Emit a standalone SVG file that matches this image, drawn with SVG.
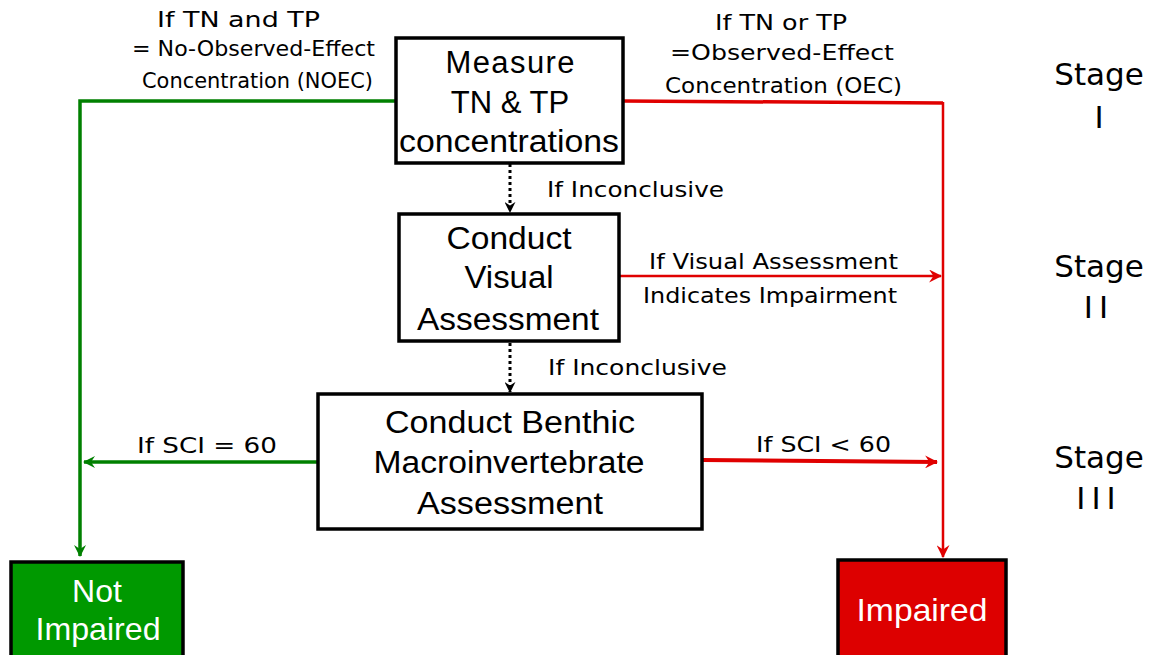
<svg xmlns="http://www.w3.org/2000/svg" width="1151" height="655" viewBox="0 0 1151 655">
<defs>
<style>
.box{fill:#fff;stroke:#000;stroke-width:3.5}
.bt{font-family:"Liberation Sans",Arial,sans-serif;font-size:31px;fill:#000;text-anchor:middle}
.wt{font-family:"Liberation Sans",Arial,sans-serif;font-size:32px;fill:#fff;text-anchor:middle}
.lb{font-family:"DejaVu Sans",Verdana,sans-serif;font-size:22px;fill:#000}
.st{font-family:"DejaVu Sans",Verdana,sans-serif;font-size:31px;fill:#000;text-anchor:middle}
.g{fill:none;stroke:#008000;stroke-width:3.5}
.r{fill:none;stroke:#e00000}
.d{fill:none;stroke:#000;stroke-width:3;stroke-dasharray:3 3}
</style>
<marker id="ag" viewBox="0 0 12 12" refX="11" refY="6" markerWidth="12" markerHeight="12" markerUnits="userSpaceOnUse" orient="auto"><path d="M0,0 L12,6 L0,12 L4,6 z" fill="#008000"/></marker>
<marker id="ar" viewBox="0 0 12 12" refX="11" refY="6" markerWidth="13" markerHeight="13" markerUnits="userSpaceOnUse" orient="auto"><path d="M0,0 L12,6 L0,12 L4,6 z" fill="#e00000"/></marker>
<marker id="ak" viewBox="0 0 12 12" refX="11" refY="6" markerWidth="11" markerHeight="11" markerUnits="userSpaceOnUse" orient="auto"><path d="M0,0 L12,6 L0,12 L4,6 z" fill="#000"/></marker>
</defs>
<rect width="1151" height="655" fill="#fff"/>

<g id="connectors">
<path class="g" d="M397,101 H80 V556" marker-end="url(#ag)"/>
<path class="g" d="M317,462 H84" marker-end="url(#ag)"/>
<path class="r" stroke-width="3.5" d="M623,101 L943,103"/>
<path class="r" stroke-width="2.5" d="M943,102 V557" marker-end="url(#ar)"/>
<path class="r" stroke-width="2.5" d="M619,276 H941" marker-end="url(#ar)"/>
<path class="r" stroke-width="4" d="M702,460 L937,462" marker-end="url(#ar)"/>
<path class="d" d="M510,164 V212" marker-end="url(#ak)"/>
<path class="d" d="M510,343 V392" marker-end="url(#ak)"/>
<text class="lb" x="157" y="27" textLength="163" lengthAdjust="spacingAndGlyphs">If TN and TP</text>
<text class="lb" x="132" y="56" textLength="243" lengthAdjust="spacingAndGlyphs">= No-Observed-Effect</text>
<text class="lb" x="142" y="88" textLength="231" lengthAdjust="spacingAndGlyphs">Concentration (NOEC)</text>
<text class="lb" x="715" y="30" textLength="132" lengthAdjust="spacingAndGlyphs">If TN or TP</text>
<text class="lb" x="670" y="60" textLength="224" lengthAdjust="spacingAndGlyphs">=Observed-Effect</text>
<text class="lb" x="665" y="93" textLength="237" lengthAdjust="spacingAndGlyphs">Concentration (OEC)</text>
<text class="lb" x="547" y="197" textLength="177" lengthAdjust="spacingAndGlyphs">If Inconclusive</text>
<text class="lb" x="548" y="375" textLength="179" lengthAdjust="spacingAndGlyphs">If Inconclusive</text>
<text class="lb" x="649" y="269" textLength="249" lengthAdjust="spacingAndGlyphs">If Visual Assessment</text>
<text class="lb" x="643" y="303" textLength="254" lengthAdjust="spacingAndGlyphs">Indicates Impairment</text>
<text class="lb" x="137" y="453" textLength="140" lengthAdjust="spacingAndGlyphs">If SCI = 60</text>
<text class="lb" x="756" y="452" textLength="135" lengthAdjust="spacingAndGlyphs">If SCI &lt; 60</text>
</g>

<g id="measure">
<rect class="box" x="396" y="38" width="227" height="125"/>
<text class="bt" x="510" y="73" textLength="129">Measure</text>
<text class="bt" x="510" y="113">TN &amp; TP</text>
<text class="bt" x="509" y="152" textLength="220" lengthAdjust="spacingAndGlyphs">concentrations</text>
</g>

<g id="visual">
<rect class="box" x="399" y="214" width="220" height="127"/>
<text class="bt" x="509" y="249" textLength="125" lengthAdjust="spacingAndGlyphs">Conduct</text>
<text class="bt" x="509" y="288" textLength="89" lengthAdjust="spacingAndGlyphs">Visual</text>
<text class="bt" x="508" y="330" textLength="182" lengthAdjust="spacingAndGlyphs">Assessment</text>
</g>

<g id="benthic">
<rect class="box" x="318" y="394" width="384" height="135"/>
<text class="bt" x="510" y="433" font-size="32" textLength="250" lengthAdjust="spacingAndGlyphs">Conduct Benthic</text>
<text class="bt" x="509" y="473" font-size="32" textLength="271" lengthAdjust="spacingAndGlyphs">Macroinvertebrate</text>
<text class="bt" x="510" y="514" font-size="32" textLength="186" lengthAdjust="spacingAndGlyphs">Assessment</text>
</g>

<g id="not-impaired">
<rect x="11" y="562" width="172" height="100" fill="#009900" stroke="#000" stroke-width="3.5"/>
<text class="wt" x="97" y="602">Not</text>
<text class="wt" x="98" y="640" textLength="125" lengthAdjust="spacingAndGlyphs">Impaired</text>
</g>

<g id="impaired">
<rect x="838" y="560" width="168" height="100" fill="#dd0000" stroke="#000" stroke-width="3.5"/>
<text class="wt" x="922" y="621" textLength="131" lengthAdjust="spacingAndGlyphs">Impaired</text>
</g>

<g id="stages">
<text class="st" x="1099" y="85">Stage</text>
<text class="st" x="1099" y="128">I</text>
<text class="st" x="1099" y="277">Stage</text>
<text class="st" x="1099" y="318" letter-spacing="6">II</text>
<text class="st" x="1099" y="468">Stage</text>
<text class="st" x="1099" y="509" letter-spacing="6">III</text>
</g>
</svg>
